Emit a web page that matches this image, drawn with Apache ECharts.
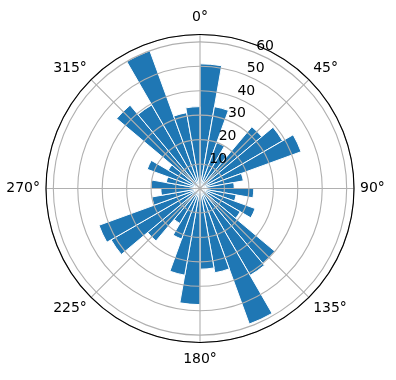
<!DOCTYPE html>
<html>
<head>
<meta charset="utf-8">
<script src="https://cdn.jsdelivr.net/npm/echarts@6/dist/echarts.min.js"></script>
<style>
  html, body { margin: 0; padding: 0; background: #fff; }
  #chartContainer { width: 396px; height: 380px; }
</style>
</head>
<body>
<div id="chartContainer"></div>
<script>
// bins of 10 degrees, clockwise from north
var DIRECTIONS = ["0", "10", "20", "30", "40", "50", "60", "70", "80", "90", "100", "110",
  "120", "130", "140", "150", "160", "170", "180", "190", "200", "210", "220", "230",
  "240", "250", "260", "270", "280", "290", "300", "310", "320", "330", "340", "350"];
var COUNTS = [51, 34, 20, 17, 33, 39, 44, 18, 14, 22, 15, 24,
  19, 40, 41, 59, 35, 33, 47.5, 36, 22, 16.5, 28, 42,
  44, 20, 16, 20, 14, 23, 15, 44.5, 39.5, 60, 31.5, 33.5];
var R_MAX = 63;
var R_TICKS = [10, 20, 30, 40, 50, 60];

var CENTER = [200, 188.5];
var RADIUS = 154;
var FONT = "DejaVu Sans";
var GRID_COLOR = "#b0b0b0";

var CHART;

window.onload = (_) => {
  CHART = echarts.init(document.getElementById("chartContainer"), null, { renderer: "canvas" });

  var option = {
    animation: false,
    polar: [
      { center: CENTER, radius: RADIUS }, // bars
      { center: CENTER, radius: RADIUS }, // grid + side labels
      { center: CENTER, radius: RADIUS }, // 0 / 180 labels
      { center: CENTER, radius: RADIUS }, // radial labels
    ],
    angleAxis: [
      {
        polarIndex: 0,
        type: "category",
        data: DIRECTIONS,
        startAngle: 90,
        clockwise: true,
        axisLine: { show: false },
        axisTick: { show: false },
        axisLabel: { show: false },
        splitLine: { show: false },
      },
      {
        polarIndex: 1,
        type: "value",
        min: 0,
        max: 360,
        interval: 45,
        startAngle: 90,
        clockwise: true,
        z: 3,
        axisLine: { show: true, lineStyle: { color: "#000", width: 1.1 } },
        axisTick: { show: false },
        splitLine: { show: true, lineStyle: { color: GRID_COLOR, width: 1.1 } },
        axisLabel: {
          margin: 6,
          fontFamily: FONT,
          fontSize: 14,
          color: "#000",
          formatter: (v) => (v == 0 || v == 180 || v == 360 ? "" : v + "°"),
        },
      },
      {
        polarIndex: 2,
        type: "value",
        min: 0,
        max: 360,
        interval: 45,
        startAngle: 90,
        clockwise: true,
        z: 3,
        axisLine: { show: false },
        axisTick: { show: false },
        splitLine: { show: false },
        axisLabel: {
          margin: 10,
          fontFamily: FONT,
          fontSize: 14,
          color: "#000",
          formatter: (v) => (v == 0 || v == 180 ? v + "°" : ""),
        },
      },
      {
        polarIndex: 3,
        type: "value",
        min: 0,
        max: 360,
        startAngle: 67.5,
        clockwise: true,
        show: false,
      },
    ],
    radiusAxis: [
      { polarIndex: 0, type: "value", min: 0, max: R_MAX, show: false },
      {
        polarIndex: 1,
        type: "value",
        min: 0,
        max: R_MAX,
        interval: 10,
        z: 3,
        axisLine: { show: false },
        axisTick: { show: false },
        axisLabel: { show: false },
        splitLine: { show: true, lineStyle: { color: GRID_COLOR, width: 1.1 } },
      },
      { polarIndex: 2, type: "value", min: 0, max: R_MAX, show: false },
      {
        polarIndex: 3,
        type: "value",
        min: 0,
        max: R_MAX,
        interval: 10,
        z: 4,
        axisLine: { show: false },
        axisTick: { show: false },
        splitLine: { show: false },
        axisLabel: {
          margin: 0,
          align: "left",
          verticalAlign: "bottom",
          fontFamily: FONT,
          fontSize: 14,
          color: "#000",
          formatter: (v) => (R_TICKS.includes(v) ? String(v) : ""),
        },
      },
    ],
    series: [
      {
        name: "counts",
        type: "bar",
        coordinateSystem: "polar",
        polarIndex: 0,
        data: COUNTS,
        barCategoryGap: "0%",
        itemStyle: { color: "#1f77b4", borderColor: "#fff", borderWidth: 1 },
      },
    ],
  };
  CHART.setOption(option);
};
</script>
</body>
</html>
